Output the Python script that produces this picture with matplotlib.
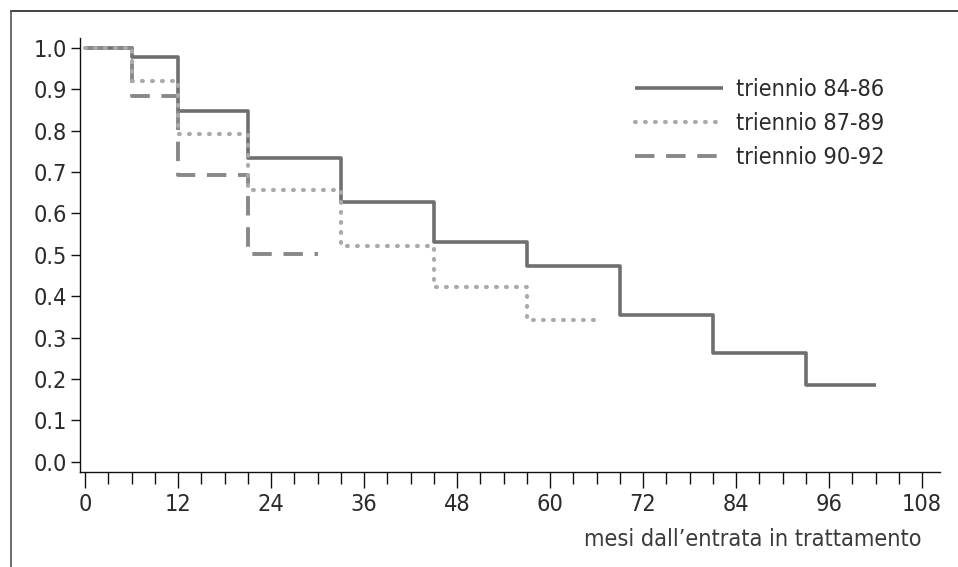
import matplotlib
matplotlib.use('Agg')
import matplotlib.pyplot as plt
from matplotlib.lines import Line2D
from matplotlib.ticker import MultipleLocator, FormatStrFormatter

# ── data ──────────────────────────────────────────────────────────────────────
t_84_86 = [0, 6, 12, 21, 33, 45, 57, 69, 81, 93, 102]
s_84_86 = [1.0, 0.977, 0.848, 0.734, 0.627, 0.531, 0.472, 0.354, 0.263, 0.186, 0.186]

t_87_89 = [0, 6, 12, 21, 33, 45, 57, 66]
s_87_89 = [1.0, 0.919, 0.792, 0.657, 0.522, 0.423, 0.343, 0.343]

t_90_92 = [0, 6, 12, 21, 30]
s_90_92 = [1.0, 0.883, 0.692, 0.502, 0.502]

labels = ['triennio 84-86', 'triennio 87-89', 'triennio 90-92']
x_label = 'mesi dall\u2019entrata in trattamento'

# ── style ─────────────────────────────────────────────────────────────────────
plt.rcParams['font.family'] = ['DejaVu Sans']
plt.rcParams['font.stretch'] = 'condensed'
FS = 16.8
TXT = '#2b2b2b'

fig = plt.figure(figsize=(9.58, 5.67), dpi=100)
ax = fig.add_axes([0.0835, 0.168, 0.8977, 0.765])

ax.step(t_84_86, s_84_86, where='post', color='#6e6f71', lw=2.6,
        solid_capstyle='butt', label=labels[0], zorder=3)
ax.step(t_87_89, s_87_89, where='post', color='#a9aaac', lw=3.0,
        dashes=(0.2, 2.2), dash_capstyle='round', label=labels[1], zorder=5)
ax.step(t_90_92, s_90_92, where='post', color='#87888a', lw=2.8,
        dashes=(5, 3), dash_capstyle='butt', label=labels[2], zorder=4)

ax.set_xlim(-0.65, 110.3)
ax.set_ylim(-0.024, 1.024)
ax.xaxis.set_major_locator(MultipleLocator(12))
ax.xaxis.set_minor_locator(MultipleLocator(3))
ax.yaxis.set_major_locator(MultipleLocator(0.1))
ax.yaxis.set_major_formatter(FormatStrFormatter('%.1f'))

for side in ('top', 'right'):
    ax.spines[side].set_visible(False)
for side in ('left', 'bottom'):
    ax.spines[side].set_linewidth(1.0)
    ax.spines[side].set_color('#111111')

ax.tick_params(axis='x', which='major', direction='out', length=11.5, width=1.0,
               pad=4, labelsize=FS, colors='#111111', labelcolor=TXT)
ax.tick_params(axis='x', which='minor', direction='out', length=8.5, width=1.0,
               colors='#111111')
ax.tick_params(axis='y', which='major', direction='out', length=6.5, width=1.0,
               pad=3, labelsize=FS, colors='#111111', labelcolor=TXT)

leg = ax.legend(loc='upper left', bbox_to_anchor=(635 / 958, 1 - 78 / 567),
                bbox_transform=fig.transFigure, frameon=False, fontsize=FS,
                handlelength=3.75, handletextpad=0.57, labelspacing=0.48,
                borderpad=0, borderaxespad=0)
for txt in leg.get_texts():
    txt.set_color(TXT)

fig.text(922 / 958, 1 - 540 / 567, x_label, ha='right', va='center',
         fontsize=FS, color='#3a3a3a')

# outer frame (top and left only)
fig.add_artist(Line2D([11 / 958, 1], [1 - 11 / 567, 1 - 11 / 567],
                      transform=fig.transFigure, color='#222222', lw=1.2))
fig.add_artist(Line2D([11 / 958, 11 / 958], [0, 1 - 11 / 567],
                      transform=fig.transFigure, color='#555555', lw=1.2))

fig.savefig('out.png', dpi=100)
